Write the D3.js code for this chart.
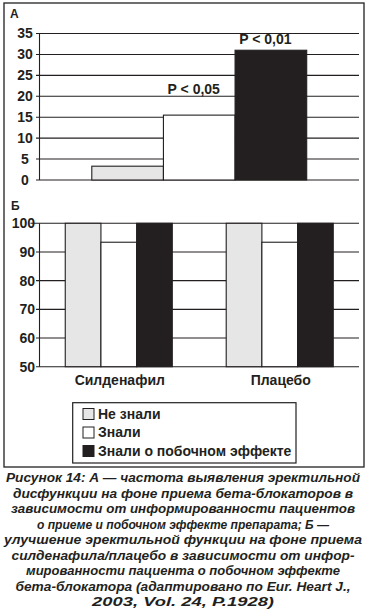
<!DOCTYPE html>
<html><head><meta charset="utf-8">
<script src="https://cdn.jsdelivr.net/npm/d3@7"></script>
<style>
html,body{margin:0;padding:0;background:#fff;}
svg{display:block;font-family:"Liberation Sans",Arial,sans-serif;}
</style></head>
<body><svg id="c" width="369" height="609"></svg>
<script>
// ---- data ----
const series = ["Не знали", "Знали", "Знали о побочном эффекте"];
const seriesColors = ["#e6e6e6", "#ffffff", "#231f20"];
// Panel A: frequency of erectile dysfunction (%)
const valuesA = [3.3, 15.5, 31];
const ticksA = [0, 5, 10, 15, 20, 25, 30, 35];
const pLabels = ["", "P < 0,05", "P < 0,01"];
const pLabelAt = [null, 20.6, 32.4];
// Panel B: improvement of erectile function (%)
const groupsB = ["Силденафил", "Плацебо"];
const valuesB_ne = [100, 100];
const valuesB_zn = [93.4, 93.4];
const valuesB_eff = [100, 100];
const ticksB = [50, 60, 70, 80, 90, 100];
const caption = [
  "Рисунок 14: А — частота выявления эректильной",
  "дисфункции на фоне приема бета-блокаторов в",
  "зависимости от информированности пациентов",
  "о приеме и побочном эффекте препарата; Б —",
  "улучшение эректильной функции на фоне приема",
  "силденафила/плацебо в зависимости от инфор-",
  "мированности пациента о побочном эффекте",
  "бета-блокатора (адаптировано по Eur. Heart J.,",
  "2003, Vol. 24, P.1928)"
];
const captionWidths = [354, 340, 344, 292, 358, 343, 314, 335, 182];

const ink = "#231f20";
const svg = d3.select("#c");

// outer frame
svg.append("rect").attr("x", 4).attr("y", 3).attr("width", 360).attr("height", 464)
  .attr("fill", "none").attr("stroke", ink).attr("stroke-width", 1.3);

const L = 39.5, R = 359;

// ---------- Panel A ----------
const yA = d3.scaleLinear().domain([0, 35]).range([180, 33.5]);
const xA = d3.scaleBand().domain(series).range([L, R]).paddingInner(0).paddingOuter(0.73);
const gA = svg.append("g");
gA.append("text").attr("x", 10).attr("y", 18).text("А")
  .attr("font-weight", "bold").attr("font-size", 12).attr("fill", ink);
gA.selectAll("line.grid").data(ticksA).join("line").attr("class", "grid")
  .attr("x1", L - 3.5).attr("x2", R).attr("y1", d => yA(d)).attr("y2", d => yA(d))
  .attr("stroke", ink).attr("stroke-width", 1.1);
gA.selectAll("rect.bar").data(valuesA).join("rect").attr("class", "bar")
  .attr("x", (d, i) => xA(series[i])).attr("width", xA.bandwidth())
  .attr("y", d => yA(d)).attr("height", d => yA(0) - yA(d))
  .attr("fill", (d, i) => seriesColors[i]).attr("stroke", ink).attr("stroke-width", 1.1);
gA.append("line").attr("x1", L).attr("x2", L).attr("y1", yA(35)).attr("y2", yA(0))
  .attr("stroke", ink).attr("stroke-width", 1.1);
gA.selectAll("text.tick").data(ticksA).join("text").attr("class", "tick")
  .attr("x", 25).attr("y", d => yA(d)).attr("dy", "0.35em").attr("text-anchor", "middle")
  .attr("font-weight", "bold").attr("font-size", 14).attr("fill", ink).text(d => d);
const pData = pLabels.map((t, i) => ({ t, s: series[i], v: pLabelAt[i] })).filter(d => d.t);
gA.selectAll("text.p").data(pData).join("text").attr("class", "p")
  .attr("x", d => xA(d.s) + xA.bandwidth() / 2 - 5.5)
  .attr("y", d => yA(d.v))
  .attr("text-anchor", "middle").attr("font-weight", "bold").attr("font-size", 14)
  .attr("fill", ink).text(d => d.t);

// ---------- Panel B ----------
const yB = d3.scaleLinear().domain([50, 100]).range([366.7, 223.3]);
const x0 = d3.scaleBand().domain(groupsB).range([L, R]).paddingInner(0.335).paddingOuter(0.16);
const x1 = d3.scaleBand().domain(series).range([0, x0.bandwidth()]).padding(0);
const gB = svg.append("g");
gB.append("text").attr("x", 11).attr("y", 210).text("Б")
  .attr("font-weight", "bold").attr("font-size", 12).attr("fill", ink);
gB.selectAll("line.grid").data(ticksB).join("line").attr("class", "grid")
  .attr("x1", d => d === 100 ? L - 9 : L - 3.5).attr("x2", R).attr("y1", d => yB(d)).attr("y2", d => yB(d))
  .attr("stroke", ink).attr("stroke-width", 1.1);
const rowsB = groupsB.map((g, gi) => [valuesB_ne[gi], valuesB_zn[gi], valuesB_eff[gi]]);
const grp = gB.selectAll("g.grp").data(rowsB).join("g").attr("class", "grp")
  .attr("transform", (d, i) => `translate(${x0(groupsB[i])},0)`);
grp.selectAll("rect").data(d => d).join("rect")
  .attr("x", (d, i) => x1(series[i])).attr("width", x1.bandwidth())
  .attr("y", d => yB(d)).attr("height", d => yB(50) - yB(d))
  .attr("fill", (d, i) => seriesColors[i]).attr("stroke", ink).attr("stroke-width", 1.1);
gB.append("line").attr("x1", L).attr("x2", L).attr("y1", yB(100)).attr("y2", yB(50))
  .attr("stroke", ink).attr("stroke-width", 1.1);
gB.selectAll("text.tick").data(ticksB).join("text").attr("class", "tick")
  .attr("x", 35).attr("y", d => yB(d)).attr("dy", "0.35em").attr("text-anchor", "end")
  .attr("font-weight", "bold").attr("font-size", 14).attr("fill", ink).text(d => d);
gB.selectAll("text.cat").data(groupsB).join("text").attr("class", "cat")
  .attr("x", d => x0(d) + x0.bandwidth() / 2 + 1).attr("y", 385)
  .attr("text-anchor", "middle").attr("font-weight", "bold").attr("font-size", 14)
  .attr("fill", ink).text(d => d);

// ---------- Legend ----------
const lg = svg.append("g");
lg.append("rect").attr("x", 72.7).attr("y", 402.7).attr("width", 223.3).attr("height", 60.3)
  .attr("fill", "#fff").attr("stroke", ink).attr("stroke-width", 1.2);
const li = lg.selectAll("g.item").data(series).join("g").attr("class", "item")
  .attr("transform", (d, i) => `translate(83,${408.5 + i * 18.5})`);
li.append("rect").attr("width", 11).attr("height", 11)
  .attr("fill", (d, i) => seriesColors[i]).attr("stroke", ink).attr("stroke-width", 1);
li.append("text").attr("x", 15).attr("y", 10).attr("font-weight", "bold").attr("font-size", 14)
  .attr("fill", ink).text(d => d);

// ---------- Caption ----------
svg.selectAll("text.cap").data(caption).join("text").attr("class", "cap")
  .attr("x", 183).attr("y", (d, i) => 482 + i * 15.5).attr("text-anchor", "middle")
  .attr("font-weight", "bold").attr("font-style", "italic").attr("font-size", 13.5)
  .attr("textLength", (d, i) => captionWidths[i]).attr("lengthAdjust", "spacingAndGlyphs")
  .attr("fill", ink).text(d => d);
</script></body></html>
